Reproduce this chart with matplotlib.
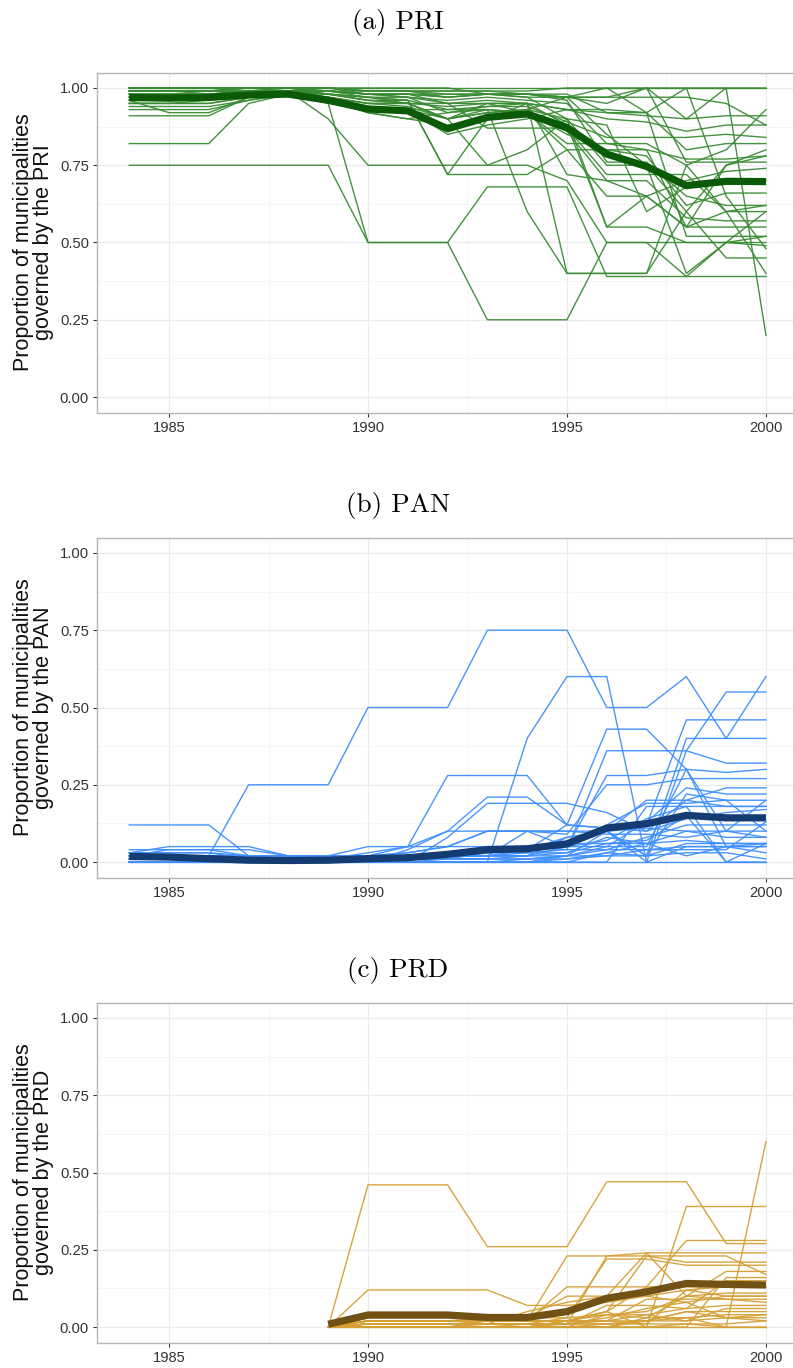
import matplotlib
matplotlib.use("Agg")
import matplotlib.pyplot as plt
from matplotlib.ticker import MultipleLocator

# years
years_full = list(range(1984, 2001))
years_prd = list(range(1989, 2001))

# PRI, share of municipalities by state, 1984-2000
pri_states = [
    [1.00, 1.00, 1.00, 1.00, 1.00, 1.00, 1.00, 1.00, 1.00, 1.00, 1.00, 1.00, 1.00, 1.00, 1.00, 1.00, 1.00],
    [0.98, 0.98, 0.99, 1.00, 1.00, 1.00, 0.98, 0.98, 0.97, 0.98, 0.98, 0.97, 0.95, 1.00, 0.90, 1.00, 0.20],
    [0.75, 0.75, 0.75, 0.75, 0.75, 0.75, 0.50, 0.50, 0.50, 0.25, 0.25, 0.25, 0.50, 0.50, 0.39, 0.39, 0.39],
    [0.95, 0.95, 0.96, 0.97, 0.98, 0.95, 0.50, 0.50, 0.50, 0.68, 0.68, 0.68, 0.39, 0.39, 0.39, 0.50, 0.60],
    [0.82, 0.82, 0.82, 0.95, 0.98, 0.98, 0.97, 0.95, 0.90, 0.95, 0.92, 0.85, 0.80, 0.78, 0.62, 0.66, 0.66],
    [0.91, 0.91, 0.91, 0.97, 0.99, 0.99, 0.98, 0.97, 0.95, 0.96, 0.95, 0.93, 0.90, 0.89, 0.86, 0.88, 0.88],
    [0.96, 0.92, 0.92, 0.97, 0.99, 0.90, 0.75, 0.75, 0.75, 0.75, 0.80, 0.90, 0.55, 0.55, 0.50, 0.50, 0.49],
    [1.00, 1.00, 1.00, 1.00, 1.00, 0.98, 0.97, 0.96, 0.72, 0.90, 0.95, 0.40, 0.40, 0.40, 0.75, 0.80, 0.93],
    [0.97, 0.97, 0.97, 0.98, 0.99, 0.98, 0.96, 0.96, 0.72, 0.72, 0.72, 0.80, 0.80, 0.80, 0.55, 0.60, 0.62],
    [0.99, 0.99, 0.99, 0.99, 0.99, 0.99, 0.99, 0.99, 0.99, 0.99, 0.99, 1.00, 1.00, 1.00, 1.00, 1.00, 1.00],
    [0.93, 0.93, 0.93, 0.96, 0.98, 0.97, 0.93, 0.93, 0.90, 0.93, 0.60, 0.40, 0.40, 0.40, 0.60, 0.75, 0.80],
    [0.97, 0.97, 0.97, 0.98, 0.98, 0.97, 0.95, 0.95, 0.95, 0.87, 0.87, 0.87, 0.72, 0.72, 0.72, 0.60, 0.60],
    [0.99, 0.99, 0.99, 1.00, 1.00, 0.99, 0.97, 0.96, 0.93, 0.94, 0.94, 0.89, 0.84, 0.84, 0.84, 0.85, 0.84],
    [0.96, 0.96, 0.96, 0.98, 0.99, 0.96, 0.92, 0.90, 0.88, 0.90, 0.91, 0.86, 0.70, 0.65, 0.55, 0.55, 0.55],
    [0.98, 0.98, 0.98, 0.99, 1.00, 0.98, 0.96, 0.95, 0.90, 0.92, 0.93, 0.90, 0.75, 0.75, 0.40, 0.50, 0.52],
    [0.95, 0.95, 0.95, 0.97, 0.98, 0.96, 0.94, 0.93, 0.85, 0.88, 0.90, 0.93, 0.93, 0.92, 0.80, 0.82, 0.82],
    [1.00, 1.00, 1.00, 1.00, 1.00, 1.00, 1.00, 1.00, 1.00, 0.98, 0.97, 0.97, 0.85, 0.75, 0.60, 0.45, 0.45],
    [0.98, 0.98, 0.98, 0.99, 0.99, 0.99, 0.98, 0.98, 0.95, 0.95, 0.95, 0.72, 0.70, 0.70, 0.58, 0.57, 0.57],
    [0.94, 0.94, 0.94, 0.96, 0.98, 0.96, 0.92, 0.90, 0.92, 0.93, 0.92, 0.80, 0.65, 0.65, 0.55, 0.75, 0.78],
    [0.99, 0.99, 0.99, 1.00, 1.00, 1.00, 0.99, 0.99, 0.97, 0.98, 0.98, 0.97, 0.97, 1.00, 0.76, 0.76, 0.76],
    [0.97, 0.97, 0.97, 0.98, 0.99, 0.98, 0.97, 0.97, 0.92, 0.94, 0.95, 0.88, 0.55, 0.65, 0.70, 0.73, 0.74],
    [0.96, 0.96, 0.96, 0.98, 0.99, 0.97, 0.93, 0.93, 0.93, 0.93, 0.92, 0.82, 0.82, 0.82, 0.75, 0.60, 0.40],
    [1.00, 1.00, 1.00, 1.00, 1.00, 1.00, 0.99, 0.99, 0.99, 0.99, 0.98, 0.97, 0.97, 0.97, 0.97, 0.95, 0.88],
    [0.98, 0.98, 0.98, 0.99, 0.99, 0.99, 0.98, 0.97, 0.96, 0.97, 0.96, 0.95, 0.82, 0.80, 0.77, 0.77, 0.78],
    [0.95, 0.95, 0.95, 0.97, 0.99, 0.97, 0.95, 0.94, 0.90, 0.75, 0.75, 0.70, 0.50, 0.50, 0.50, 0.50, 0.50],
    [0.99, 0.99, 0.99, 0.99, 1.00, 0.99, 0.98, 0.98, 0.97, 0.98, 0.98, 0.96, 0.76, 0.76, 0.65, 0.62, 0.62],
    [0.97, 0.97, 0.97, 0.98, 0.99, 0.98, 0.96, 0.95, 0.90, 0.92, 0.93, 0.97, 1.00, 0.92, 0.52, 0.52, 0.52],
    [1.00, 1.00, 1.00, 1.00, 1.00, 1.00, 0.99, 0.99, 0.98, 0.98, 0.98, 0.98, 0.92, 0.92, 1.00, 0.65, 0.48],
    [0.96, 0.96, 0.96, 0.98, 0.99, 0.97, 0.95, 0.95, 0.94, 0.95, 0.95, 0.93, 0.92, 0.91, 0.90, 0.91, 0.91],
    [0.99, 0.99, 0.99, 0.99, 0.99, 0.99, 0.98, 0.98, 0.98, 0.98, 0.97, 0.90, 0.88, 0.60, 0.68, 0.70, 0.70],
]
pri_mean = [0.969, 0.967, 0.970, 0.977, 0.980, 0.960, 0.932, 0.926, 0.868, 0.905, 0.916, 0.872,
            0.786, 0.746, 0.684, 0.698, 0.697]

# PAN, 1984-2000
pan_states = [
    [0.02, 0.02, 0.02, 0.25, 0.25, 0.25, 0.50, 0.50, 0.50, 0.75, 0.75, 0.75, 0.50, 0.50, 0.60, 0.40, 0.60],
    [0.12, 0.12, 0.12, 0.02, 0.02, 0.02, 0.02, 0.03, 0.05, 0.05, 0.05, 0.06, 0.06, 0.06, 0.10, 0.10, 0.10],
    [0.00, 0.00, 0.00, 0.00, 0.00, 0.00, 0.00, 0.00, 0.00, 0.00, 0.40, 0.60, 0.60, 0.00, 0.05, 0.05, 0.05],
    [0.01, 0.01, 0.01, 0.01, 0.01, 0.01, 0.01, 0.01, 0.02, 0.02, 0.02, 0.02, 0.10, 0.00, 0.36, 0.55, 0.55],
    [0.02, 0.02, 0.02, 0.02, 0.01, 0.01, 0.02, 0.05, 0.28, 0.28, 0.28, 0.12, 0.11, 0.12, 0.46, 0.46, 0.46],
    [0.00, 0.00, 0.00, 0.00, 0.00, 0.00, 0.00, 0.04, 0.10, 0.21, 0.21, 0.12, 0.43, 0.43, 0.30, 0.10, 0.08],
    [0.00, 0.00, 0.00, 0.00, 0.00, 0.00, 0.00, 0.00, 0.08, 0.19, 0.19, 0.19, 0.16, 0.10, 0.20, 0.18, 0.18],
    [0.03, 0.03, 0.03, 0.01, 0.01, 0.01, 0.02, 0.02, 0.03, 0.04, 0.04, 0.08, 0.10, 0.02, 0.40, 0.40, 0.40],
    [0.00, 0.00, 0.00, 0.00, 0.00, 0.00, 0.01, 0.01, 0.02, 0.02, 0.03, 0.04, 0.36, 0.36, 0.36, 0.32, 0.32],
    [0.02, 0.02, 0.02, 0.02, 0.02, 0.02, 0.02, 0.03, 0.05, 0.10, 0.10, 0.05, 0.28, 0.28, 0.30, 0.29, 0.30],
    [0.04, 0.04, 0.04, 0.02, 0.01, 0.01, 0.03, 0.05, 0.10, 0.10, 0.10, 0.09, 0.25, 0.25, 0.27, 0.27, 0.27],
    [0.01, 0.01, 0.01, 0.01, 0.01, 0.01, 0.01, 0.01, 0.01, 0.03, 0.04, 0.05, 0.10, 0.20, 0.20, 0.24, 0.24],
    [0.00, 0.00, 0.00, 0.00, 0.00, 0.00, 0.00, 0.00, 0.00, 0.00, 0.00, 0.02, 0.05, 0.13, 0.24, 0.22, 0.22],
    [0.02, 0.02, 0.02, 0.01, 0.01, 0.01, 0.01, 0.02, 0.03, 0.04, 0.04, 0.05, 0.12, 0.19, 0.19, 0.20, 0.20],
    [0.03, 0.03, 0.03, 0.02, 0.01, 0.01, 0.02, 0.02, 0.03, 0.05, 0.05, 0.05, 0.07, 0.14, 0.18, 0.18, 0.18],
    [0.01, 0.01, 0.01, 0.01, 0.01, 0.01, 0.01, 0.02, 0.02, 0.02, 0.04, 0.12, 0.11, 0.10, 0.14, 0.16, 0.17],
    [0.00, 0.00, 0.00, 0.00, 0.00, 0.00, 0.00, 0.00, 0.01, 0.01, 0.01, 0.02, 0.04, 0.08, 0.12, 0.12, 0.12],
    [0.02, 0.02, 0.02, 0.01, 0.01, 0.01, 0.01, 0.01, 0.02, 0.02, 0.02, 0.08, 0.10, 0.11, 0.10, 0.08, 0.08],
    [0.00, 0.00, 0.00, 0.00, 0.00, 0.00, 0.00, 0.00, 0.00, 0.00, 0.01, 0.01, 0.03, 0.06, 0.07, 0.06, 0.06],
    [0.01, 0.01, 0.01, 0.01, 0.01, 0.01, 0.01, 0.01, 0.01, 0.01, 0.01, 0.02, 0.02, 0.04, 0.05, 0.05, 0.06],
    [0.02, 0.04, 0.04, 0.04, 0.02, 0.02, 0.02, 0.02, 0.03, 0.03, 0.03, 0.03, 0.06, 0.07, 0.15, 0.00, 0.00],
    [0.00, 0.00, 0.00, 0.00, 0.00, 0.00, 0.00, 0.00, 0.00, 0.00, 0.00, 0.00, 0.00, 0.00, 0.00, 0.00, 0.00],
    [0.01, 0.01, 0.01, 0.00, 0.00, 0.00, 0.00, 0.01, 0.02, 0.02, 0.10, 0.10, 0.09, 0.09, 0.08, 0.10, 0.20],
    [0.03, 0.05, 0.05, 0.05, 0.02, 0.02, 0.05, 0.05, 0.05, 0.10, 0.10, 0.10, 0.10, 0.02, 0.06, 0.06, 0.06],
    [0.00, 0.00, 0.00, 0.00, 0.00, 0.00, 0.00, 0.00, 0.00, 0.00, 0.00, 0.00, 0.00, 0.18, 0.18, 0.00, 0.06],
    [0.01, 0.01, 0.01, 0.01, 0.00, 0.00, 0.01, 0.01, 0.01, 0.01, 0.02, 0.03, 0.08, 0.06, 0.02, 0.05, 0.05],
    [0.02, 0.02, 0.02, 0.02, 0.02, 0.02, 0.02, 0.02, 0.02, 0.02, 0.02, 0.05, 0.05, 0.05, 0.30, 0.05, 0.03],
    [0.00, 0.00, 0.00, 0.00, 0.00, 0.00, 0.00, 0.00, 0.00, 0.00, 0.00, 0.01, 0.02, 0.02, 0.03, 0.03, 0.01],
    [0.01, 0.01, 0.01, 0.01, 0.01, 0.01, 0.01, 0.01, 0.01, 0.05, 0.05, 0.04, 0.04, 0.04, 0.04, 0.04, 0.13],
    [0.00, 0.00, 0.00, 0.00, 0.00, 0.00, 0.00, 0.00, 0.00, 0.00, 0.00, 0.00, 0.03, 0.02, 0.22, 0.20, 0.10],
]
pan_mean = [0.018, 0.016, 0.011, 0.006, 0.005, 0.006, 0.011, 0.014, 0.025, 0.040, 0.043, 0.059,
            0.110, 0.124, 0.151, 0.143, 0.143]

# PRD, 1989-2000
prd_states = [
    [0.00, 0.46, 0.46, 0.46, 0.26, 0.26, 0.26, 0.47, 0.47, 0.47, 0.27, 0.27],
    [0.00, 0.12, 0.12, 0.12, 0.12, 0.07, 0.07, 0.08, 0.10, 0.12, 0.13, 0.13],
    [0.00, 0.01, 0.01, 0.01, 0.01, 0.01, 0.01, 0.01, 0.01, 0.01, 0.00, 0.60],
    [0.00, 0.00, 0.00, 0.00, 0.00, 0.00, 0.02, 0.05, 0.00, 0.39, 0.39, 0.39],
    [0.00, 0.02, 0.02, 0.02, 0.02, 0.02, 0.23, 0.23, 0.23, 0.23, 0.23, 0.17],
    [0.00, 0.01, 0.01, 0.01, 0.01, 0.01, 0.03, 0.22, 0.22, 0.20, 0.20, 0.20],
    [0.00, 0.03, 0.03, 0.03, 0.03, 0.02, 0.13, 0.13, 0.13, 0.13, 0.13, 0.13],
    [0.00, 0.00, 0.00, 0.00, 0.00, 0.00, 0.02, 0.05, 0.23, 0.21, 0.21, 0.21],
    [0.00, 0.02, 0.02, 0.02, 0.02, 0.02, 0.02, 0.05, 0.13, 0.28, 0.28, 0.28],
    [0.00, 0.00, 0.00, 0.00, 0.00, 0.00, 0.00, 0.00, 0.03, 0.10, 0.18, 0.18],
    [0.00, 0.01, 0.01, 0.01, 0.01, 0.01, 0.01, 0.03, 0.06, 0.08, 0.10, 0.10],
    [0.00, 0.02, 0.02, 0.02, 0.02, 0.02, 0.02, 0.04, 0.05, 0.10, 0.09, 0.09],
    [0.00, 0.01, 0.01, 0.01, 0.01, 0.01, 0.01, 0.02, 0.04, 0.06, 0.07, 0.07],
    [0.00, 0.00, 0.00, 0.00, 0.00, 0.00, 0.00, 0.01, 0.02, 0.05, 0.05, 0.05],
    [0.00, 0.02, 0.02, 0.02, 0.03, 0.03, 0.03, 0.04, 0.03, 0.03, 0.04, 0.04],
    [0.00, 0.00, 0.00, 0.00, 0.00, 0.00, 0.01, 0.01, 0.02, 0.02, 0.03, 0.03],
    [0.00, 0.01, 0.01, 0.01, 0.00, 0.00, 0.00, 0.00, 0.00, 0.01, 0.01, 0.02],
    [0.00, 0.00, 0.00, 0.00, 0.00, 0.00, 0.00, 0.00, 0.00, 0.00, 0.00, 0.00],
    [0.00, 0.03, 0.03, 0.03, 0.03, 0.03, 0.10, 0.10, 0.24, 0.10, 0.11, 0.11],
    [0.00, 0.01, 0.01, 0.01, 0.01, 0.01, 0.01, 0.23, 0.24, 0.24, 0.24, 0.24],
    [0.00, 0.00, 0.00, 0.00, 0.00, 0.00, 0.02, 0.02, 0.09, 0.09, 0.09, 0.08],
    [0.00, 0.02, 0.02, 0.02, 0.01, 0.01, 0.01, 0.07, 0.07, 0.06, 0.15, 0.15],
    [0.00, 0.00, 0.00, 0.00, 0.00, 0.00, 0.00, 0.00, 0.02, 0.03, 0.00, 0.00],
    [0.00, 0.01, 0.01, 0.01, 0.01, 0.00, 0.00, 0.04, 0.04, 0.02, 0.06, 0.06],
    [0.00, 0.00, 0.00, 0.00, 0.02, 0.02, 0.02, 0.02, 0.01, 0.12, 0.10, 0.10],
    [0.00, 0.01, 0.01, 0.01, 0.01, 0.05, 0.08, 0.10, 0.10, 0.08, 0.03, 0.04],
    [0.00, 0.00, 0.00, 0.00, 0.00, 0.00, 0.00, 0.00, 0.00, 0.00, 0.16, 0.16],
    [0.00, 0.02, 0.02, 0.02, 0.02, 0.02, 0.02, 0.02, 0.02, 0.05, 0.03, 0.02],
]
prd_mean = [0.009, 0.039, 0.039, 0.039, 0.031, 0.031, 0.050, 0.093, 0.114, 0.141, 0.138, 0.136]

panels = [
    ("(a) PRI", "PRI", years_full, pri_states, pri_mean, "#3a8c34", "#0b5a08"),
    ("(b) PAN", "PAN", years_full, pan_states, pan_mean, "#3f8fff", "#143c72"),
    ("(c) PRD", "PRD", years_prd, prd_states, prd_mean, "#d5a036", "#715214"),
]

W, H = 793, 1368
fig = plt.figure(figsize=(W / 100, H / 100), dpi=100)

# pixel boxes of the panels (top, bottom)
boxes = [(72.5, 412.5), (537.5, 877.5), (1002.5, 1342.5)]
title_y = [23, 505, 970]
left_px, right_px = 97.4, 797.8

for (title, party, yrs, states, mean, thin_c, thick_c), (top, bot), ty in zip(panels, boxes, title_y):
    ax = fig.add_axes([left_px / W, 1 - bot / H, (right_px - left_px) / W, (bot - top) / H])
    for s in states:
        ax.plot(yrs, s, color=thin_c, lw=1.0, alpha=0.95)
    ax.plot(yrs, mean, color=thick_c, lw=5.2, solid_capstyle="butt", zorder=3)

    ax.set_xlim(1983.2, 2000.8)
    ax.set_ylim(-0.05, 1.05)
    ax.xaxis.set_major_locator(MultipleLocator(5))
    ax.xaxis.set_minor_locator(MultipleLocator(2.5))
    ax.yaxis.set_major_locator(MultipleLocator(0.25))
    ax.yaxis.set_minor_locator(MultipleLocator(0.125))
    ax.set_yticklabels([f"{v:.2f}" for v in ax.get_yticks()])
    ax.grid(which="major", color="#ebebeb", lw=0.9)
    ax.grid(which="minor", color="#f5f5f5", lw=0.6)
    ax.set_axisbelow(True)
    ax.tick_params(which="minor", length=0)
    ax.tick_params(which="major", length=3, color="#333333", labelcolor="#333333",
                   labelsize=10.6, pad=3)
    for lab in ax.get_xticklabels() + ax.get_yticklabels():
        lab.set_family("Liberation Sans")
    for sp in ax.spines.values():
        sp.set_color("#b5b5b5")
        sp.set_linewidth(1.0)
    ax.set_ylabel(f"Proportion of municipalities\ngoverned by the {party}",
                  fontsize=15.5, family="Liberation Sans", color="#111111",
                  linespacing=0.95, labelpad=4)
    fig.text(398 / W, 1 - ty / H, title, ha="center", va="center",
             fontsize=19.5, family="cmr10")

fig.savefig("out.png", dpi=100)
